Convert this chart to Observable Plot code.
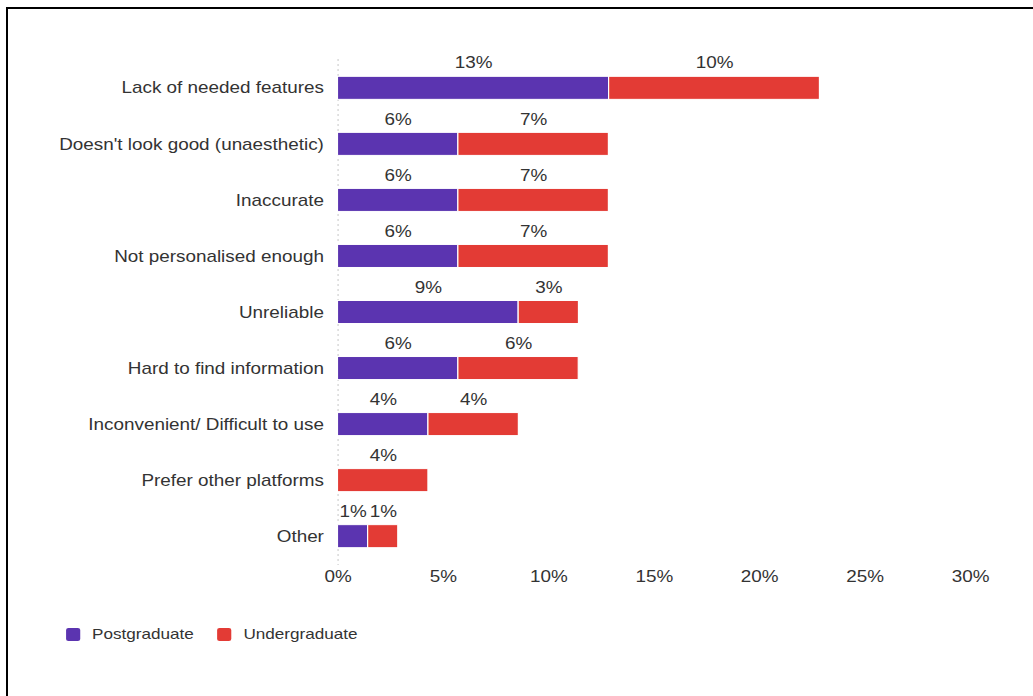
<!DOCTYPE html>
<html>
<head>
<meta charset="utf-8">
<script src="https://cdn.jsdelivr.net/npm/d3@7"></script>
<script src="https://cdn.jsdelivr.net/npm/@observablehq/plot@0.6"></script>
<style>
html,body{margin:0;padding:0;background:#fff;width:1033px;height:696px;overflow:hidden;font-family:"Liberation Sans",Arial,sans-serif}
#frame{position:absolute;left:6px;top:7px;width:1100px;height:800px;border-top:2px solid #000;border-left:2px solid #000}
#wrap{position:absolute;left:0;top:0;width:875px;height:696px;transform:scaleX(1.18);transform-origin:0 0}
#chart{position:absolute;left:0;top:0}
#legend{position:absolute;top:624px;left:56px;height:20px;display:flex;align-items:center;font-size:14.5px;color:#333}
.item{display:flex;align-items:center}
.sw{width:12px;height:13px;border-radius:2px;margin-right:10px}
</style>
</head>
<body>
<div id="frame"></div>
<div id="wrap">
  <div id="chart"></div>
  <div id="legend"></div>
</div>
<script>
const categories = [
  "Lack of needed features",
  "Doesn't look good (unaesthetic)",
  "Inaccurate",
  "Not personalised enough",
  "Unreliable",
  "Hard to find information",
  "Inconvenient/ Difficult to use",
  "Prefer other platforms",
  "Other"
];
const postgraduate  = [12.86, 5.71, 5.71, 5.71, 8.57, 5.71, 4.29, 0, 1.43];
const undergraduate = [10.00, 7.14, 7.14, 7.14, 2.86, 5.71, 4.29, 4.29, 1.43];
const groups = ["Postgraduate", "Undergraduate"];
const colors = ["#5b34b0", "#e33b35"];
const xTicks = [0, 5, 10, 15, 20, 25, 30];

const series = [postgraduate, undergraduate];
const rows = [];
categories.forEach((c, i) => {
  groups.forEach((g, j) => {
    const v = series[j][i];
    if (v > 0) rows.push({category: c, group: g, value: v});
  });
});

const chart = Plot.plot({
  width: 875,
  height: 600,
  marginLeft: 286,
  marginRight: 53,
  marginTop: 59,
  marginBottom: 35,
  style: {fontFamily: "'Liberation Sans', Arial, sans-serif", fontSize: "16px", color: "#333", background: "transparent"},
  x: {domain: [0, 30], ticks: xTicks, tickFormat: d => d + "%", tickSize: 0, tickPadding: 5, label: null},
  y: {domain: categories, label: null, tickSize: 0, tickPadding: 12, paddingInner: 0.589, paddingOuter: 0.309, round: false},
  color: {domain: groups, range: colors},
  marks: [
    Plot.ruleX([0], {stroke: "#cfcfcf", strokeDasharray: "2,3"}),
    Plot.barX(rows, Plot.stackX({y: "category", x: "value", fill: "group", z: "group", stroke: "white", strokeWidth: 1})),
    Plot.textX(rows, Plot.stackX({y: "category", x: "value", z: "group", text: d => Math.round(d.value) + "%", dy: -25, fill: "#333", fontSize: 16}))
  ]
});
document.getElementById("chart").appendChild(chart);

const legend = document.getElementById("legend");
groups.forEach((g, j) => {
  const item = document.createElement("div");
  item.className = "item";
  if (j > 0) item.style.marginLeft = "20px";
  const sw = document.createElement("div");
  sw.className = "sw";
  sw.style.background = colors[j];
  const t = document.createElement("span");
  t.textContent = g;
  item.appendChild(sw);
  item.appendChild(t);
  legend.appendChild(item);
});
</script>
</body>
</html>
